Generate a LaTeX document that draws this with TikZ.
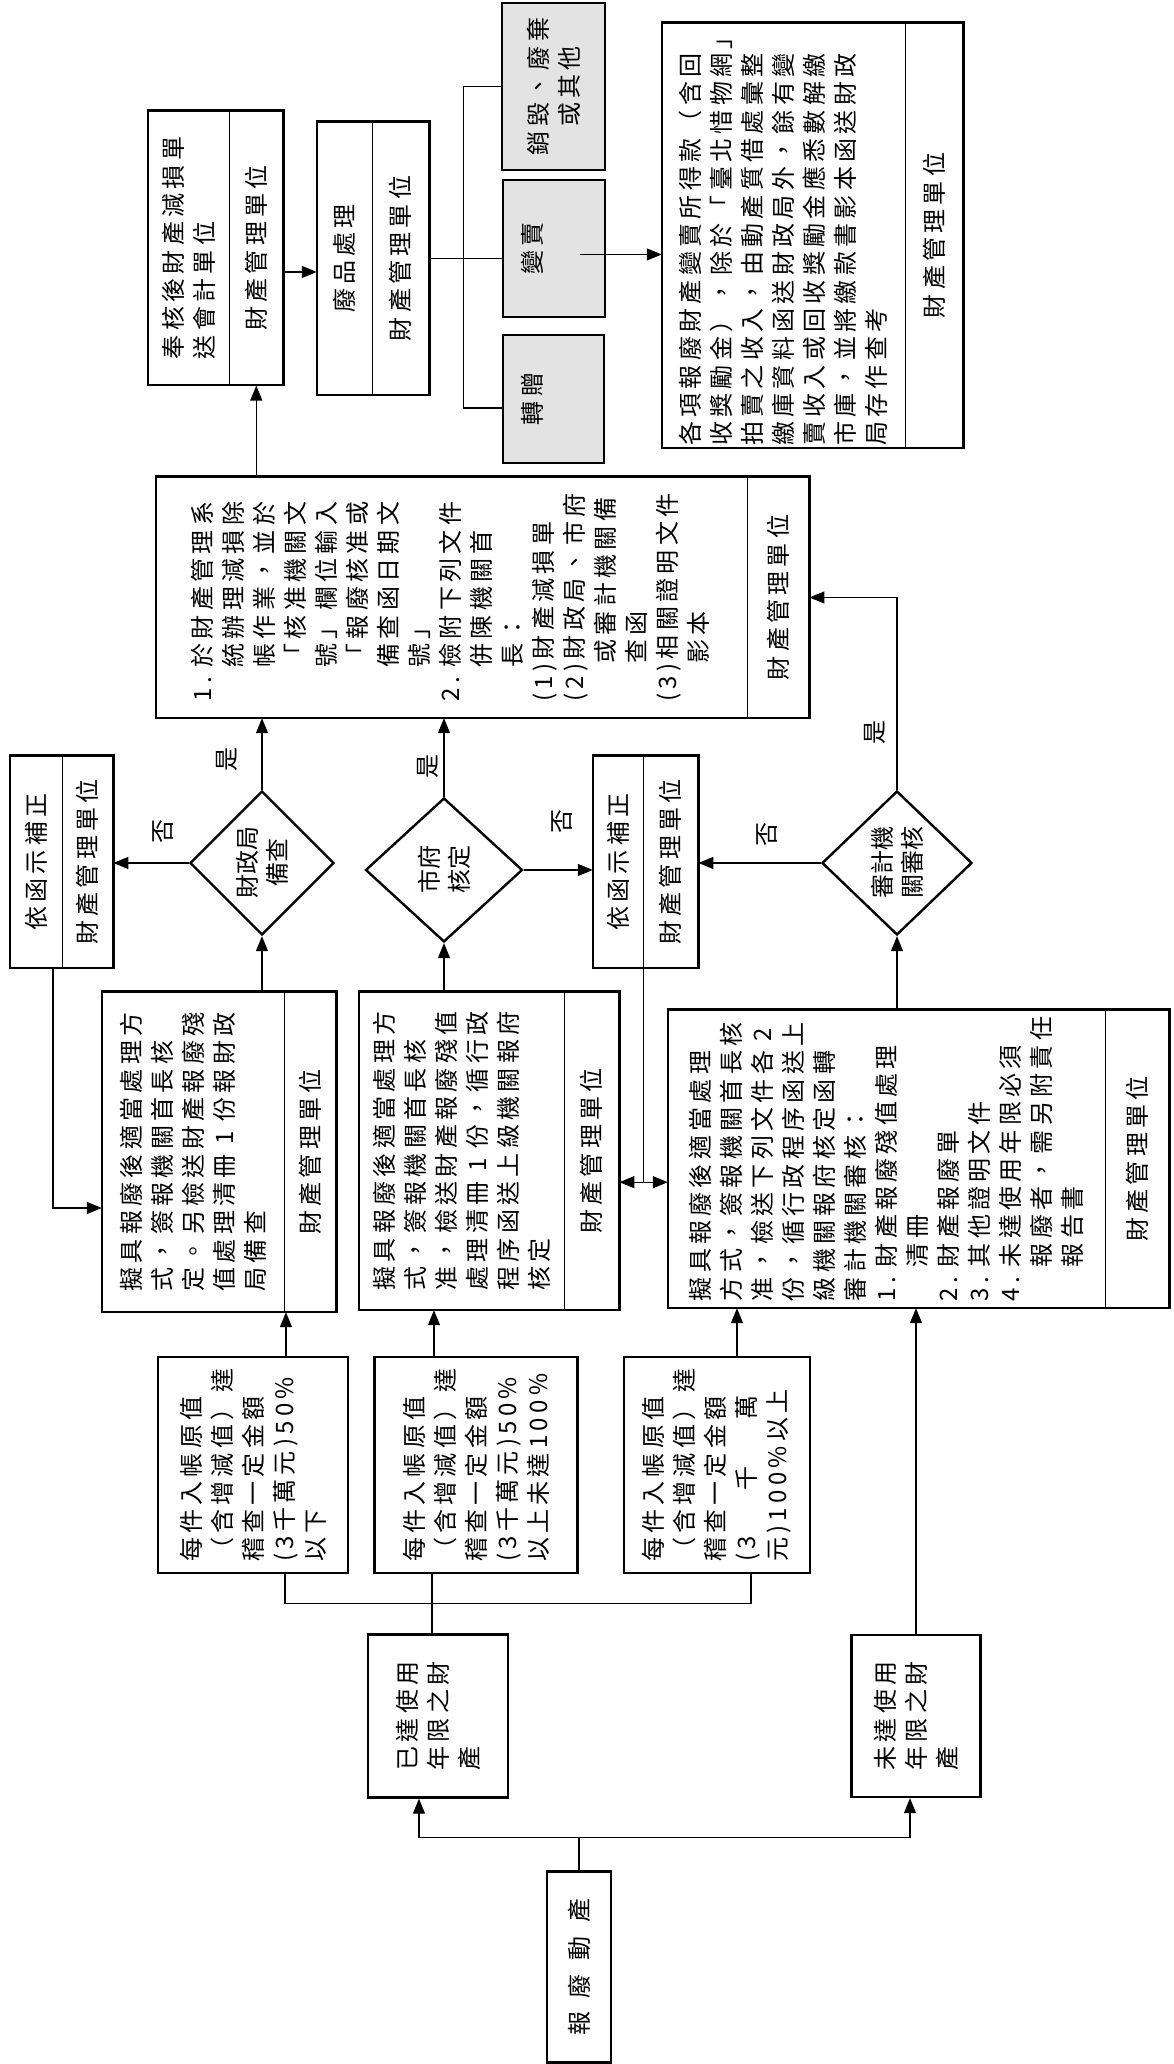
\documentclass[tikz,border=0pt]{standalone}
\usepackage{fontspec}
\newfontfamily\cjk{Noto Sans CJK TC}
\newfontfamily\cjkwide[LetterSpace=18]{Noto Sans CJK TC}
\usetikzlibrary{arrows.meta,positioning,shapes.geometric,calc}

\begin{document}
\begin{tikzpicture}[x=1pt, y=1pt, rotate=90, transform shape,
    every node/.style={font=\cjkwide\fontsize{24}{31}\selectfont},
    box/.style={draw, line width=2.4pt, inner sep=0pt, align=left},
    part/.style={inner sep=0pt, align=left},
    unitpart/.style={draw, line width=1.2pt, inner sep=0pt},
    frame/.style={line width=2.4pt},
    greybox/.style={draw, line width=2.4pt, fill=gray!22, inner sep=0pt, align=center},
    decision/.style={diamond, draw, line width=2.4pt, inner sep=0pt, align=center,
                     font=\cjk\fontsize{24}{30}\selectfont},
    answer/.style={inner sep=0pt, font=\cjk\fontsize{24}{30}\selectfont},
    conn/.style={line width=1.2pt},
    arr/.style={line width=1.2pt, -{Triangle[length=15pt,width=12pt]}}]
\useasboundingbox (0,0) rectangle (2064,1173);
\fill[white] (0,0) rectangle (2064,1173);

% Start and life span
\node[box, minimum width=191pt, minimum height=64pt] (start) at (97,594)
  {\cjk 報\hspace{14pt}廢\hspace{14pt}動\hspace{14pt}產};
\node[box, minimum width=163pt, minimum height=140pt] (reach) at (348,735) {已達使用\\年限之財\\產};
\node[box, minimum width=162pt, minimum height=129pt] (notreach) at (348,257) {未達使用\\年限之財\\產};

\draw[conn] (start.east) -- ++(33,0) coordinate (sj);
\draw[arr] (sj) |- ($(reach.west)+(0,19)$);
\draw[arr] (sj) |- ($(notreach.west)+(0,6)$);

% Value thresholds
\node[box, minimum width=216pt, minimum height=190pt] (C1) at (599,920)
  {每件入帳原值\\（含增減值）達\\稽查一定金額\\(3千萬元)50\%\\以下};
\node[box, minimum width=216pt, minimum height=203pt] (C2) at (599,697)
  {每件入帳原值\\（含增減值）達\\稽查一定金額\\(3千萬元)50\%\\以上未達100\%};
\node[box, minimum width=216pt, minimum height=186pt] (C3) at (599,456)
  {每件入帳原值\\（含增減值）達\\稽查一定金額\\\makebox[166pt][s]{(3 千 萬}\\元)100\%以上};

\draw[conn] ($(reach.east)+(0,6)$) coordinate (rj) -- (rj -| C2.west);
\draw[conn] ($(C1.west)+(0,-32)$) -- ++(-29,0) |- ($(C3.west)+(0,-34)$);

% Proposals
\node[part, minimum width=320pt, minimum height=182pt] (B1) at (912,980)
  {擬具報廢後適當處理方\\式，簽報機關首長核\\定。另檢送財產報廢殘\\值處理清冊 1 份報財政\\局備查};
\node[unitpart, minimum width=320pt, minimum height=51pt, below=0pt of B1] (B1u) {財產管理單位};
\draw[frame] (B1.north west) rectangle (B1u.south east);

\node[part, minimum width=318pt, minimum height=205pt] (B2) at (913,711.5)
  {擬具報廢後適當處理方\\式，簽報機關首長核\\准，檢送財產報廢殘值\\處理清冊 1 份，循行政\\程序函送上級機關報府\\核定};
\node[unitpart, minimum width=318pt, minimum height=54pt, below=0pt of B2] (B2u) {財產管理單位};
\draw[frame] (B2.north west) rectangle (B2u.south east);

\node[part, minimum width=298pt, minimum height=437pt] (B3) at (905,286.5)
  {擬具報廢後適當處理\\方式，簽報機關首長核\\准，檢送下列文件各 2\\份，循行政程序函送上\\級機關報府核定函轉\\審計機關審核：\\
   1.\ 財產報廢殘值處理\\\phantom{1.\ }清冊\\2.\ 財產報廢單\\3.\ 其他證明文件\\
   4.\ 未達使用年限必須\\\phantom{4.\ }報廢者，需另附責任\\\phantom{4.\ }報告書};
\node[unitpart, minimum width=298pt, minimum height=63pt, below=0pt of B3] (B3u) {財產管理單位};
\draw[frame] (B3.north west) rectangle (B3u.south east);

\draw[arr] ($(C1.east)+(0,-33)$) coordinate (c1o) -- (c1o -| B1.west);
\draw[arr] ($(C2.east)+(0,42)$) coordinate (c2o) -- (c2o -| B2.west);
\draw[arr] ($(C3.east)+(0,-20)$) coordinate (c3o) -- (c3o -| B3.west);
\draw[arr] (notreach.east) -- (notreach.east -| B3.west);

% Reviews
\node[decision, minimum width=144pt, minimum height=144pt] (D1) at (1201,911) {財政局\\備查};
\node[decision, minimum width=144pt, minimum height=157pt] (D2) at (1194,729) {市府\\核定};
\node[decision, minimum width=144pt, minimum height=150pt] (D3) at (1201,276) {審計機\\關審核};

\draw[arr] (B1.east |- D1.west) -- (D1.west);
\draw[arr] (B2.east |- D2.west) -- (D2.west);
\draw[arr] (B3.east |- D3.west) -- (D3.west);

% Corrections
\node[part, minimum width=212pt, minimum height=52pt] (R1) at (1202,1137) {依函示補正};
\node[unitpart, minimum width=212pt, minimum height=50pt, below=0pt of R1] (R1u) {財產管理單位};
\draw[frame] (R1.north west) rectangle (R1u.south east);

\node[part, minimum width=212pt, minimum height=50pt] (R2) at (1202,555) {依函示補正};
\node[unitpart, minimum width=212pt, minimum height=54pt, below=0pt of R2] (R2u) {財產管理單位};
\draw[frame] (R2.north west) rectangle (R2u.south east);

\draw[arr] (D1.north) -- (D1.north |- R1u.south);
\draw[arr] (D2.south) -- (D2.south |- R2.north);
\draw[arr] (D3.north) -- (D3.north |- R2u.south);
\node[answer] (no1) at (1232,1010) {否};
\node[answer] (no2) at (1242,611) {否};
\node[answer] (no3) at (1229,406) {否};

\draw[arr] ($(R1.west)+(0,-17)$) -| ($(B1.north)+(-56,0)$);
\draw[conn] (R2.south west) -- ++(-214,0) coordinate (rsplit);
\draw[arr] (rsplit) -- (rsplit |- B2u.south);
\draw[arr] (rsplit) -- (rsplit |- B3.north);

% Write-off
\node[part, minimum width=241pt, minimum height=591pt] (BB) at (1466.5,721.5)
  {1.\ 於財產管理系\\\phantom{1.\ }統辦理減損除\\\phantom{1.\ }帳作業，並於\\\phantom{1.\ }「核准機關文\\
   \phantom{1.\ }號」欄位輸入\\\phantom{1.\ }「報廢核准或\\\phantom{1.\ }備查函日期文\\\phantom{1.\ }號」\\
   2.\ 檢附下列文件\\\phantom{2.\ }併陳機關首\\\phantom{2.\ }長：\\(1)財產減損單\\(2)財政局、市府\\
   \phantom{(2)}或審計機關備\\\phantom{(2)}查函\\(3)相關證明文件\\\phantom{(3)}影本};
\node[unitpart, minimum width=241pt, minimum height=61pt, below=0pt of BB] (BBu) {財產管理單位};
\draw[frame] (BB.north west) rectangle (BBu.south east);

\draw[arr] (D1.east) -- (D1.east -| BB.west);
\draw[arr] (D2.east) -- (D2.east -| BB.west);
\draw[arr] (D3.east) -| (BBu.south);
\node[answer] (yes1) at (1304,946) {是};
\node[answer] (yes2) at (1297,745) {是};
\node[answer] (yes3) at (1331,298) {是};

% Accounting and disposal
\node[part, minimum width=274pt, minimum height=81pt] (T1) at (1816,984.5) {奉核後財產減損單\\送會計單位};
\node[unitpart, minimum width=274pt, minimum height=53pt, below=0pt of T1] (T1u) {財產管理單位};
\draw[frame] (T1.north west) rectangle (T1u.south east);

\node[part, minimum width=273pt, minimum height=55pt] (T2) at (1805.5,828.5) {廢品處理};
\node[unitpart, minimum width=273pt, minimum height=56pt, below=0pt of T2] (T2u) {財產管理單位};
\draw[frame] (T2.north west) rectangle (T2u.south east);

\draw[arr] (BB.east |- T1u.west) -- (T1u.west);
\draw[arr] ($(T1u.south)+(-24,0)$) coordinate (t1o) -- (t1o |- T2.north);

\node[greybox, minimum width=167pt, minimum height=103pt] (G1) at (1977.5,619.5) {銷毀、廢棄\\或其他};
\node[greybox, minimum width=137pt, minimum height=102pt, text depth=45pt] (G2) at (1815.5,619) {變賣};
\node[greybox, minimum width=128pt, minimum height=101pt, text depth=45pt] (G3) at (1665,619.5) {轉贈};

\draw[conn] (T2u.south) -- (T2u.south |- G2.north);
\draw[conn] ($(G3.north)+(-9,0)$) -- ++(0,38) -| (G1.north);

% Sale proceeds
\node[part, minimum width=425pt, minimum height=243pt] (RB) at (1828.5,389.5)
  {各項報廢財產變賣所得款（含回\\收獎勵金），除於「臺北惜物網」\\拍賣之收入，由動產質借處彙整\\
   繳庫資料函送財政局外，餘有變\\賣收入或回收獎勵金應悉數解繳\\市庫，並將繳款書影本函送財政\\局存作查考};
\node[unitpart, minimum width=425pt, minimum height=57pt, below=0pt of RB] (RBu) {財產管理單位};
\draw[frame] (RB.north west) rectangle (RBu.south east);

\draw[arr] ($(G2.center)+(-6,-26)$) coordinate (g2o) -- (g2o |- RB.north);
\end{tikzpicture}
\end{document}
